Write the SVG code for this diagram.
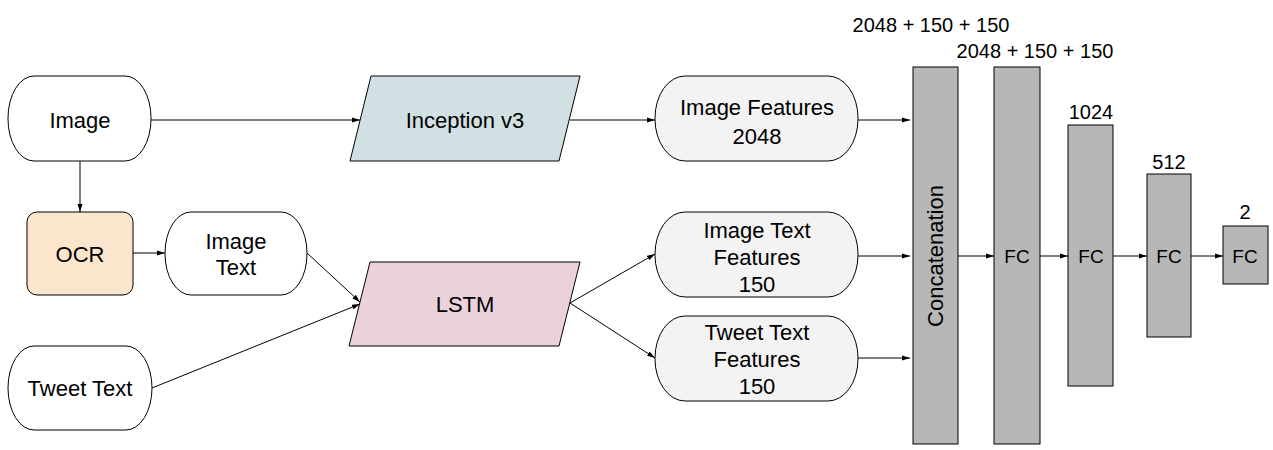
<svg xmlns="http://www.w3.org/2000/svg" width="1273" height="450" viewBox="0 0 1273 450">
<style>
text{font-family:"Liberation Sans",Arial,sans-serif;fill:#000;text-anchor:middle;dominant-baseline:central}
.n{font-size:22px}
.s{font-size:20px}
.f{font-size:19px}
.sh{stroke:#000;stroke-width:1}
.c{fill:none;stroke:#000;stroke-width:1;marker-end:url(#a)}
</style>
<defs>
<marker id="a" viewBox="0 0 8 6" refX="8" refY="3" markerWidth="8" markerHeight="6" markerUnits="userSpaceOnUse" orient="auto">
<path d="M0,0.5 L8,3 L0,5.5 Z" fill="#000"/>
</marker>
</defs>
<rect width="1273" height="450" fill="#fff"/>
<g id="connectors">
<path class="c" d="M151,120 H360"/>
<path class="c" d="M80,161 V212"/>
<path class="c" d="M133,253 H165"/>
<path class="c" d="M307,253 L360,302"/>
<path class="c" d="M152,388 L360,304"/>
<path class="c" d="M570,120 H655"/>
<path class="c" d="M570,303 L655,254"/>
<path class="c" d="M570,303 L655,358"/>
<path class="c" d="M858,120 H910"/>
<path class="c" d="M858,256 H910"/>
<path class="c" d="M858,358 H910"/>
<path class="c" d="M958,256 H994"/>
<path class="c" d="M1040,256 H1068"/>
<path class="c" d="M1113,256 H1147"/>
<path class="c" d="M1191,256 H1223"/>
</g>
<g id="image">
<rect class="sh" x="8" y="76" width="143" height="85" rx="26" ry="42" fill="#fff"/>
<text class="n" x="80" y="120">Image</text>
</g>
<g id="ocr">
<rect class="sh" x="27" y="212" width="106" height="83" rx="10" fill="#fce5cd"/>
<text class="n" x="80" y="254">OCR</text>
</g>
<g id="image-text">
<rect class="sh" x="165" y="212" width="142" height="83" rx="26" ry="41" fill="#fff"/>
<text class="n" x="236" y="241">Image</text>
<text class="n" x="236" y="267">Text</text>
</g>
<g id="tweet-text">
<rect class="sh" x="8" y="346" width="144" height="84" rx="26" ry="42" fill="#fff"/>
<text class="n" x="80" y="388">Tweet Text</text>
</g>
<g id="inception">
<polygon class="sh" points="371,76 580,76 559,161 350,161" fill="#d0e0e3"/>
<text class="n" x="465" y="120">Inception v3</text>
</g>
<g id="lstm">
<polygon class="sh" points="370,262 580,262 559,346 349,346" fill="#ead1dc"/>
<text class="n" x="465" y="304">LSTM</text>
</g>
<g id="image-features">
<rect class="sh" x="655" y="76" width="203" height="85" rx="30" ry="42" fill="#f3f3f3"/>
<text class="n" x="757" y="107">Image Features</text>
<text class="n" x="757" y="136">2048</text>
</g>
<g id="image-text-features">
<rect class="sh" x="655" y="212" width="203" height="85" rx="30" ry="42" fill="#f3f3f3"/>
<text class="n" x="757" y="230">Image Text</text>
<text class="n" x="757" y="257">Features</text>
<text class="n" x="757" y="284">150</text>
</g>
<g id="tweet-text-features">
<rect class="sh" x="655" y="316" width="203" height="85" rx="30" ry="42" fill="#f3f3f3"/>
<text class="n" x="757" y="332">Tweet Text</text>
<text class="n" x="757" y="359">Features</text>
<text class="n" x="757" y="386">150</text>
</g>
<g id="concatenation">
<rect class="sh" x="913" y="67" width="45" height="377" fill="#b7b7b7"/>
<text class="n" transform="translate(935,256) rotate(-90)">Concatenation</text>
<text class="s" x="931" y="25">2048 + 150 + 150</text>
</g>
<g id="fc1">
<rect class="sh" x="994" y="67" width="46" height="377" fill="#b7b7b7"/>
<text class="f" x="1017" y="256">FC</text>
<text class="s" x="1035" y="51">2048 + 150 + 150</text>
</g>
<g id="fc2">
<rect class="sh" x="1068" y="125" width="45" height="261" fill="#b7b7b7"/>
<text class="f" x="1091" y="256">FC</text>
<text class="s" x="1091" y="112">1024</text>
</g>
<g id="fc3">
<rect class="sh" x="1147" y="174" width="44" height="163" fill="#b7b7b7"/>
<text class="f" x="1169" y="256">FC</text>
<text class="s" x="1169" y="162">512</text>
</g>
<g id="fc4">
<rect class="sh" x="1223" y="226" width="45" height="58" fill="#b7b7b7"/>
<text class="f" x="1245" y="256">FC</text>
<text class="s" x="1245" y="212">2</text>
</g>
</svg>
